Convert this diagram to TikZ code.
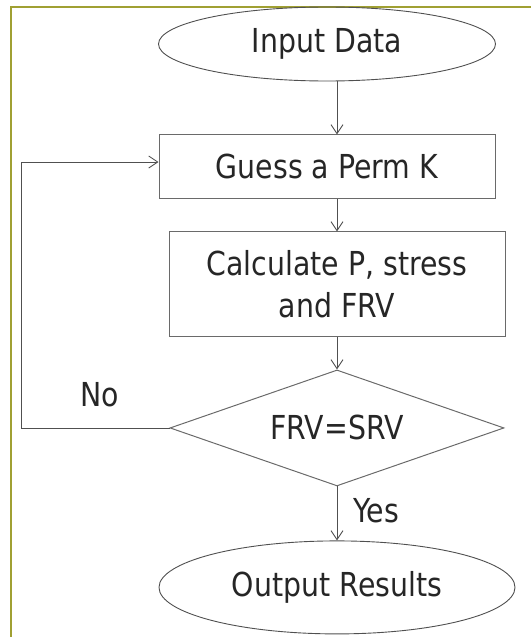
\documentclass[tikz,border=0pt]{standalone}
\usepackage{fontspec}
\setmainfont{DejaVu Sans}[FakeStretch=0.86]
\usetikzlibrary{shapes.geometric,arrows.meta,positioning}
\definecolor{frame}{RGB}{160,160,50}
\definecolor{edge}{RGB}{80,80,80}

\begin{document}
\begin{tikzpicture}[x=1pt, y=-1pt,
    every node/.style={font=\fontsize{33}{42}\selectfont, text=black!85},
    terminal/.style={ellipse, draw=edge, line width=0.9pt, inner sep=0pt},
    process/.style={rectangle, draw=edge!85, line width=1pt, inner sep=0pt, align=center},
    decision/.style={diamond, draw=edge!85, line width=1pt, inner sep=0pt, shape aspect=2.9,
                     minimum width=334pt, minimum height=116pt},
    flow/.style={draw=edge, line width=0.9pt, -{Straight Barb[length=9pt,width=12pt]}}]
      \useasboundingbox (0,0) rectangle (531,637);
      \draw[frame, line width=1.2pt] (11,637) -- (11,7) -- (531,7);

      \node[terminal, minimum width=337pt, minimum height=74pt] (input) at (327,44) {Input Data};
      \node[process, minimum width=336pt, minimum height=64pt, below=53pt of input] (guess) {Guess a Perm K};
      \node[process, minimum width=336pt, minimum height=105pt, below=32pt of guess, xshift=10pt] (calc) {Calculate P, stress\\and FRV};
      \node[decision, below=32pt of calc] (decide) {FRV=SRV};
      \node[terminal, minimum width=356pt, minimum height=93pt, below=54pt of decide] (output) {Output Results};

      \node (no) at (100,395) {No};
      \node (yes) at (376,511) {Yes};
      \coordinate (corner) at (21,162);

      \draw[flow] (input.south -| calc) -- (guess.north -| calc);
      \draw[flow] (guess.south -| calc) -- (calc.north);
      \draw[flow] (calc) -- (decide.north);
      \draw[flow] (decide) -- (output.north);
      \draw[flow] (decide.west) -- (decide.west -| corner) -- (corner) -- (corner -| guess.west);
    \end{tikzpicture}
\end{document}
